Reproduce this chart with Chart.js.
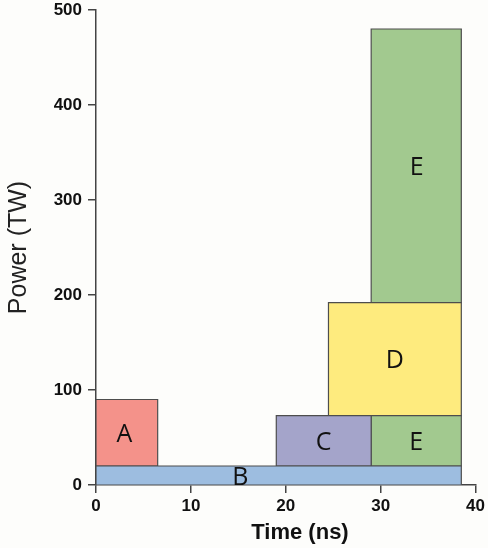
<!DOCTYPE html>
<html>
<head>
<meta charset="utf-8">
<script src="https://cdn.jsdelivr.net/npm/chart.js@4"></script>
<style>
  html, body { margin: 0; padding: 0; background: #fdfdfb; }
  #wrap { width: 488px; height: 548px; }
</style>
</head>
<body>
<div id="wrap"><canvas id="chartPower"></canvas></div>
<script>
// blocks of the pulse shape: time span (ns) and power span (TW)
const blockNames = ["B", "A", "C", "E", "D", "E"];
const timeStart = [0, 0, 19, 29, 24.5, 29];
const timeEnd = [38.5, 6.5, 29, 38.5, 38.5, 38.5];
const powerLow = [0, 20, 20, 20, 73, 192];
const powerHigh = [20, 90, 73, 73, 192, 480];
// where each letter sits on the time axis (B is off-centre in the source)
const labelTime = [15.2, 3.0, 24, 33.75, 31.5, 33.8];
const xTicks = [0, 10, 20, 30, 40];
const yTicks = [0, 100, 200, 300, 400, 500];

const blockColors = {
  A: "#f4928a",
  B: "#9dbde0",
  C: "#a4a4ca",
  D: "#feeb7e",
  E: "#a2c98f"
};
const ink = "#444444";

const datasets = blockNames.map((name, i) => ({
  label: name,
  data: [
    { x: timeStart[i], y: powerLow[i] },
    { x: timeEnd[i], y: powerLow[i] },
    { x: timeEnd[i], y: powerHigh[i] },
    { x: timeStart[i], y: powerHigh[i] },
    { x: timeStart[i], y: powerLow[i] }
  ],
  borderColor: "#4d4d4d",
  borderWidth: 1.2,
  backgroundColor: blockColors[name],
  fill: "shape",
  pointRadius: 0,
  tension: 0
}));

/** letters inside blocks + the x title, placed through the scales */
const blockLabels = {
  id: "blockLabels",
  beforeDraw(chart) {
    const ctx = chart.ctx;
    ctx.save();
    ctx.fillStyle = "#fdfdfb";
    ctx.fillRect(0, 0, chart.width, chart.height);
    ctx.restore();
  },
  afterDatasetsDraw(chart) {
    const { ctx, scales } = chart;
    ctx.save();
    ctx.fillStyle = "#111111";
    ctx.font = "25px 'Open Sans', sans-serif";
    ctx.textAlign = "center";
    ctx.textBaseline = "middle";
    blockNames.forEach((name, i) => {
      const px = scales.x.getPixelForValue(labelTime[i]);
      const py = scales.y.getPixelForValue((powerLow[i] + powerHigh[i]) / 2);
      ctx.fillText(name, px, py + 2);
    });
    ctx.font = "bold 22px 'Liberation Sans', Arial, sans-serif";
    ctx.fillText("Time (ns)", 300, 533);
    ctx.restore();
  }
};

new Chart(document.getElementById("chartPower"), {
  type: "line",
  data: { datasets },
  options: {
    responsive: true,
    maintainAspectRatio: false,
    animation: false,
    layout: { padding: { top: 10, right: 12, left: 0, bottom: 0 } },
    plugins: { legend: { display: false }, tooltip: { enabled: false } },
    scales: {
      x: {
        type: "linear",
        min: 0,
        max: 40,
        afterFit(scale) { scale.height = 63; },
        afterBuildTicks(scale) { scale.ticks = xTicks.map(v => ({ value: v })); },
        border: { display: true, color: ink, width: 1.5 },
        grid: { display: true, drawOnChartArea: false, drawTicks: true, tickLength: 8, color: ink, lineWidth: 1.5 },
        ticks: { color: "#111111", padding: 3, font: { family: "'Liberation Sans', Arial, sans-serif", size: 17, weight: "bold" } }
      },
      y: {
        type: "linear",
        min: 0,
        max: 500,
        afterFit(scale) {
          scale.width = 96;
          scale.paddingTop = 0;
        },
        afterBuildTicks(scale) { scale.ticks = yTicks.map(v => ({ value: v })); },
        border: { display: true, color: ink, width: 1.5 },
        grid: { display: true, drawOnChartArea: false, drawTicks: true, tickLength: 8, color: ink, lineWidth: 1.5 },
        ticks: { color: "#111111", padding: 6, font: { family: "'Liberation Sans', Arial, sans-serif", size: 17, weight: "bold", lineHeight: 1 } },
        title: {
          display: true,
          text: "Power (TW)",
          color: "#222222",
          padding: { top: 4 },
          font: { family: "'Liberation Sans', Arial, sans-serif", size: 25 }
        }
      }
    }
  },
  plugins: [blockLabels]
});
</script>
</body>
</html>
